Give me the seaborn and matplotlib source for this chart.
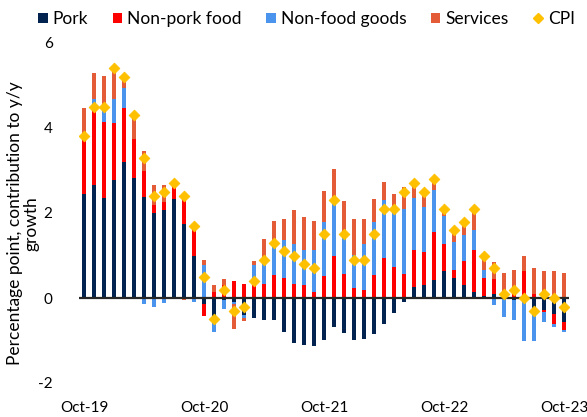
import numpy as np
import pandas as pd
import matplotlib
matplotlib.use("Agg")
import matplotlib.pyplot as plt
from matplotlib.patches import Patch
from matplotlib.lines import Line2D
import seaborn as sns

# ---- data ----
months = pd.date_range("2019-10-01", "2023-10-01", freq="MS").strftime("%b-%y").tolist()
tick_labels = ["Oct-19", "Oct-20", "Oct-21", "Oct-22", "Oct-23"]

pork = [2.44, 2.65, 2.36, 2.78, 3.20, 2.82, 2.38, 1.99, 2.06, 2.33,
        1.74, 0.98, -0.13, -0.42, -0.05, -0.09, -0.39, -0.46, -0.51, -0.51,
        -0.81, -1.06, -1.10, -1.13, -0.98, -0.68, -0.82, -0.98, -0.96, -0.84,
        -0.60, -0.35, -0.09, 0.26, 0.30, 0.43, 0.63, 0.47, 0.30, 0.14,
        0.05, 0.10, 0.00, -0.04, 0.00, -0.38, -0.29, -0.37, -0.56]
non_pork_food = [1.31, 1.80, 1.78, 1.34, 1.28, 0.91, 0.61, 0.19, 0.20, 0.32,
                 0.59, 0.68, -0.29, 0.14, 0.30, 0.39, 0.34, 0.31, 0.34, 0.53,
                 0.48, 0.34, 0.30, 0.13, 0.51, 0.98, 0.57, 0.23, 0.18, 0.53,
                 0.94, 0.74, 0.57, 0.86, 0.78, 1.12, 0.63, 0.20, 0.56, 0.99,
                 0.42, 0.35, 0.03, 0.10, 0.63, 0.09, -0.04, -0.23, -0.20]
non_food_goods = [0.00, 0.24, 0.39, 0.56, 0.47, 0.02, -0.14, -0.21, -0.11, 0.00,
                  0.00, -0.09, 0.77, -0.39, -0.22, -0.05, -0.09, 0.47, 0.59, 0.75,
                  0.89, 0.92, 0.84, 0.99, 1.29, 1.28, 0.85, 0.79, 1.08, 1.25,
                  1.37, 1.43, 1.53, 1.23, 1.06, 0.98, 0.68, 0.64, 0.63, 0.47,
                  0.20, -0.17, -0.45, -0.47, -1.01, -0.64, -0.23, -0.09, -0.04]
services = [0.73, 0.61, 0.70, 0.71, 0.28, 0.54, 0.46, 0.49, 0.39, 0.07,
            -0.05, 0.08, 0.12, 0.16, 0.15, -0.60, -0.05, 0.10, 0.47, 0.53,
            0.49, 0.81, 0.77, 0.69, 0.71, 0.77, 0.86, 0.85, 0.60, 0.55,
            0.41, 0.27, 0.51, 0.41, 0.35, 0.27, 0.16, 0.27, 0.24, 0.47,
            0.26, 0.39, 0.57, 0.57, 0.35, 0.62, 0.64, 0.64, 0.59]
cpi = [3.8, 4.5, 4.5, 5.4, 5.2, 4.3, 3.3, 2.4, 2.5, 2.7,
       2.4, 1.7, 0.5, -0.5, 0.2, -0.3, -0.2, 0.4, 0.9, 1.3,
       1.1, 1.0, 0.8, 0.7, 1.5, 2.3, 1.5, 0.9, 0.9, 1.5,
       2.1, 2.1, 2.5, 2.7, 2.5, 2.8, 2.1, 1.6, 1.8, 2.1,
       1.0, 0.7, 0.1, 0.2, 0.0, -0.3, 0.1, 0.0, -0.2]

series_names = ["Pork", "Non-pork food", "Non-food goods", "Services"]
series_vals = [pork, non_pork_food, non_food_goods, services]
colors = ["#02234F", "#FF0000", "#4A94EE", "#E35B37"]
cpi_color = "#FFC000"

# ---- figure ----
fig = plt.figure(figsize=(5.87, 4.17), dpi=100)
plt.rcParams["font.family"] = ["Lato", "DejaVu Sans"]
ax = fig.add_axes([79/587, 1 - 383/417, 490/587, 340/417])

idx = np.arange(len(months))
vals = np.array(series_vals)
pos = np.clip(vals, 0, None).cumsum(axis=0)
neg = np.clip(vals, None, 0).cumsum(axis=0)

# stacked bars drawn as overlaid cumulative layers (largest first)
for k in range(len(series_names) - 1, -1, -1):
    for arr in (pos[k], neg[k]):
        sns.barplot(x=idx, y=arr, color=colors[k], saturation=1, width=0.48,
                    errorbar=None, ax=ax, linewidth=0, zorder=2)

ax.axhline(0, color="#262626", lw=1.6, zorder=3)

sns.scatterplot(x=idx, y=cpi, marker="D", s=30, color=cpi_color,
                edgecolor=cpi_color, linewidth=0.6, ax=ax, zorder=5)

ax.set_xlim(-0.5, len(months) - 0.5)
ax.set_ylim(-2, 6)
ax.set_yticks([-2, 0, 2, 4, 6])
ax.set_yticklabels(["-2", "0", "2", "4", "6"])
ax.set_xticks([months.index(t) for t in tick_labels])
ax.set_xticklabels(tick_labels)
ax.tick_params(axis="both", length=0, labelsize=11, labelcolor="black")
ax.tick_params(axis="x", pad=13)
ax.tick_params(axis="y", pad=19)
for s in ax.spines.values():
    s.set_visible(False)
ax.set_xlabel("")
ax.set_ylabel("Percentage point, contribution to y/y\ngrowth", fontsize=12.5,
              color="black", linespacing=1.05)
ax.yaxis.set_label_coords(-39/490, 0.47)

handles = [Patch(facecolor=c, edgecolor="none") for c in colors]
handles.append(Line2D([], [], marker="D", color=cpi_color, lw=0, markersize=5))
fig.legend(handles, series_names + ["CPI"], loc="center", ncol=5,
           bbox_to_anchor=(0.522, 1 - 19/417), frameon=False, fontsize=12.5,
           handlelength=0.55, handleheight=0.55, handletextpad=0.3,
           columnspacing=1.4)

fig.savefig("out.png", dpi=100)
